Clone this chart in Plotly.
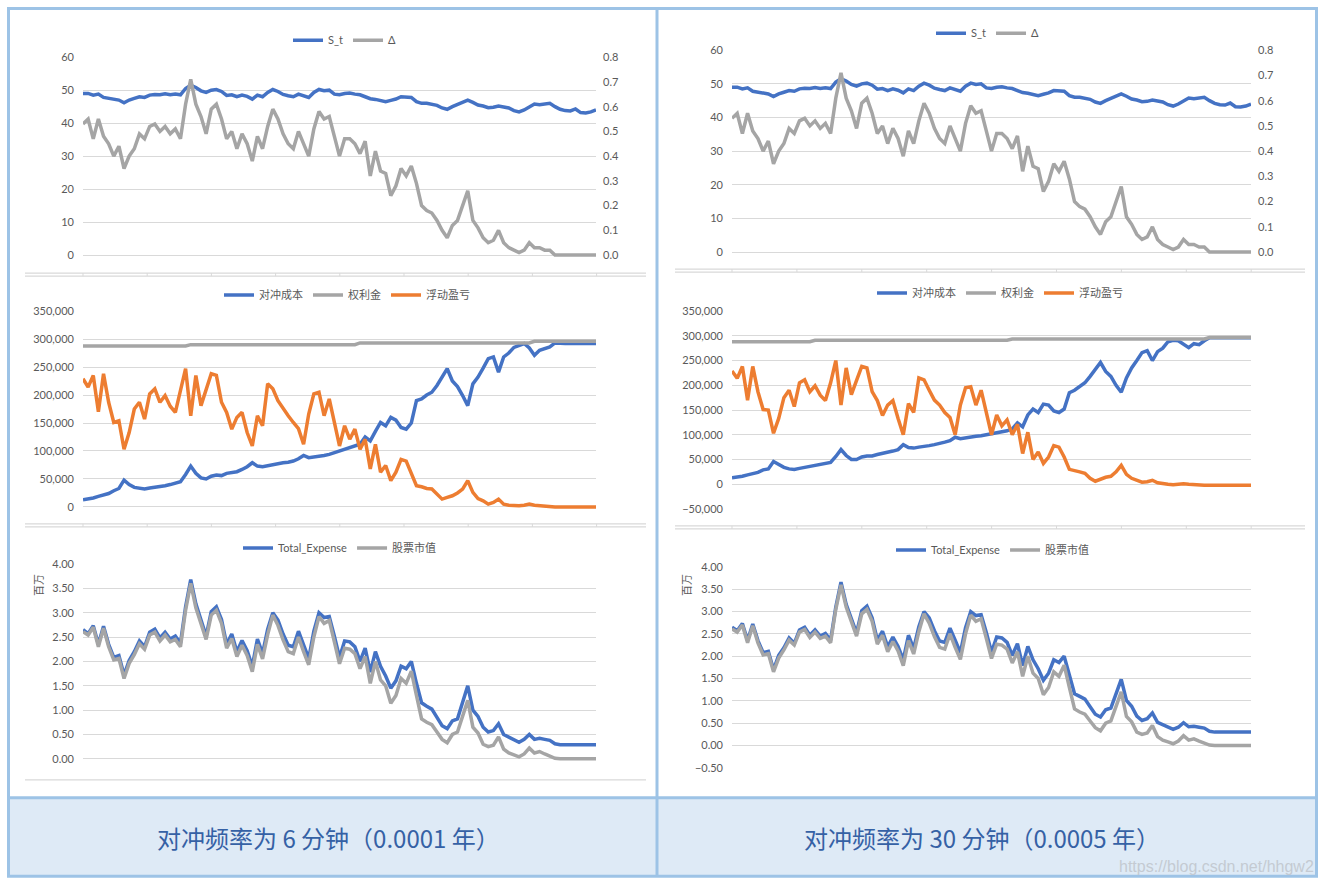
import plotly.graph_objects as go

# ---- data (101 time steps) ----
steps = list(range(101))

s_t = [49.0, 49.0, 48.5, 48.8, 47.8, 47.5, 47.2, 47.0, 46.2, 47.0,
       47.5, 48.0, 47.8, 48.5, 48.7, 48.6, 48.9, 48.6, 48.8, 48.6,
       50.5, 51.5, 50.8, 49.8, 49.3, 50.0, 50.2, 49.6, 48.4, 48.6,
       48.0, 48.5, 48.1, 47.3, 48.5, 48.0, 49.3, 50.2, 49.6, 48.7,
       48.3, 48.0, 48.8, 48.2, 47.8, 49.3, 50.2, 49.8, 50.0, 48.8,
       48.6, 49.0, 49.1, 48.8, 48.6, 48.0, 47.4, 47.2, 46.8, 46.5,
       46.9, 47.3, 48.0, 48.0, 47.8, 46.5, 46.0, 46.0, 45.7, 45.4,
       44.6, 44.2, 45.0, 45.6, 46.2, 47.0, 46.3, 45.5, 45.2, 44.7,
       44.8, 45.2, 44.9, 44.6, 43.8, 43.4, 44.0, 45.0, 45.8, 45.6,
       45.8, 46.0, 45.0, 44.2, 43.8, 43.7, 44.3, 43.2, 43.1, 43.4,
       44.0]

delta = [0.53, 0.55, 0.47, 0.55, 0.48, 0.45, 0.40, 0.44, 0.35, 0.40,
         0.43, 0.49, 0.47, 0.52, 0.53, 0.50, 0.52, 0.49, 0.51, 0.47,
         0.61, 0.71, 0.61, 0.56, 0.49, 0.59, 0.61, 0.55, 0.47, 0.50,
         0.43, 0.49, 0.45, 0.38, 0.48, 0.43, 0.52, 0.59, 0.55, 0.49,
         0.45, 0.43, 0.50, 0.45, 0.40, 0.51, 0.58, 0.55, 0.56, 0.48,
         0.40, 0.47, 0.47, 0.45, 0.41, 0.46, 0.32, 0.42, 0.34, 0.33,
         0.24, 0.28, 0.35, 0.32, 0.36, 0.29, 0.20, 0.18, 0.17, 0.14,
         0.10, 0.07, 0.12, 0.14, 0.20, 0.26, 0.14, 0.11, 0.07, 0.05,
         0.06, 0.10, 0.05, 0.03, 0.02, 0.01, 0.02, 0.05, 0.03, 0.03,
         0.02, 0.02, 0.0, 0.0, 0.0, 0.0, 0.0, 0.0, 0.0, 0.0,
         0.0]

hedge_cost_6m = [13000, 14000, 16000, 19000, 21000, 24000, 29000, 33000, 48000, 40000,
                 35000, 33000, 32000, 34000, 35000, 37000, 38000, 40000, 42000, 45000,
                 58000, 73000, 60000, 52000, 50000, 55000, 57000, 56000, 60000, 62000,
                 63000, 67000, 72000, 79000, 73000, 72000, 74000, 76000, 77000, 79000,
                 80000, 82000, 86000, 92000, 88000, 89000, 91000, 92000, 94000, 97000,
                 100000, 103000, 106000, 109000, 112000, 125000, 118000, 135000, 151000, 145000,
                 160000, 155000, 142000, 139000, 150000, 190000, 193000, 200000, 205000, 217000,
                 232000, 247000, 225000, 215000, 199000, 181000, 220000, 232000, 248000, 265000,
                 268000, 241000, 268000, 275000, 285000, 289000, 292000, 284000, 271000, 280000,
                 283000, 286000, 293000, 292000, 292000, 292000, 292000, 292000, 292000, 292000,
                 292000]

hedge_cost_30m = [13000, 14000, 16000, 19000, 21000, 24000, 29000, 31000, 46000, 40000,
                  34000, 31000, 30000, 32000, 34000, 36000, 37000, 39000, 41000, 44000,
                  56000, 70000, 58000, 50000, 50000, 55000, 57000, 57000, 60000, 62000,
                  64000, 67000, 70000, 80000, 74000, 73000, 75000, 76000, 78000, 80000,
                  82000, 85000, 88000, 95000, 92000, 94000, 96000, 97000, 98000, 100000,
                  102000, 104000, 105000, 108000, 112000, 124000, 116000, 140000, 152000, 145000,
                  162000, 160000, 148000, 145000, 152000, 185000, 190000, 198000, 205000, 218000,
                  232000, 246000, 228000, 218000, 200000, 186000, 215000, 235000, 250000, 266000,
                  270000, 250000, 268000, 275000, 288000, 291000, 290000, 282000, 276000, 284000,
                  282000, 290000, 296000, 296000, 296000, 296000, 296000, 296000, 296000, 296000,
                  296000]

premium_6m = [287500] * 21 + [290000] * 33 + [293000] * 34 + [296000] * 13
premium_30m = [288000] * 16 + [291000] * 38 + [293500] * 38 + [296500] * 9

pnl_6m = [229000, 214000, 235000, 170000, 238000, 187000, 151000, 154000, 103000, 133000,
          175000, 187000, 157000, 202000, 211000, 187000, 199000, 180000, 169000, 205000,
          247000, 163000, 235000, 181000, 210000, 238000, 235000, 187000, 169000, 139000,
          160000, 169000, 133000, 109000, 163000, 145000, 220000, 211000, 190000, 175000,
          163000, 151000, 140000, 112000, 166000, 202000, 205000, 163000, 193000, 151000,
          109000, 145000, 121000, 139000, 103000, 121000, 68000, 112000, 62000, 74000,
          47000, 62000, 85000, 82000, 58000, 38000, 36000, 33000, 32000, 22000,
          14000, 17000, 20000, 25000, 32000, 47000, 26000, 15000, 11000, 5000,
          8000, 14000, 5000, 3000, 2000, 2000, 3000, 5000, 3000, 2000,
          2000, 1000, 0, 0, 0, 0, 0, 0, 0, 0,
          0]

pnl_30m = [229000, 214000, 238000, 170000, 238000, 187000, 151000, 150000, 103000, 133000,
           175000, 190000, 157000, 205000, 211000, 187000, 199000, 180000, 169000, 205000,
           250000, 160000, 235000, 181000, 210000, 238000, 235000, 187000, 169000, 139000,
           160000, 169000, 133000, 100000, 163000, 145000, 215000, 211000, 190000, 170000,
           160000, 145000, 135000, 100000, 160000, 195000, 197000, 160000, 190000, 145000,
           100000, 140000, 118000, 130000, 100000, 121000, 62000, 105000, 50000, 65000,
           42000, 55000, 78000, 75000, 55000, 30000, 28000, 25000, 22000, 12000,
           6000, 10000, 14000, 16000, 25000, 38000, 20000, 12000, 8000, 4000,
           5000, 8000, 3000, 1000, 0, -1000, 0, 1000, 0, -1000,
           -1000, -2000, -2000, -2000, -2000, -2000, -2000, -2000, -2000, -2000,
           -2000]

stock_value = [2.61, 2.54, 2.70, 2.30, 2.68, 2.30, 2.03, 2.06, 1.65, 1.96,
               2.14, 2.36, 2.25, 2.54, 2.60, 2.42, 2.54, 2.40, 2.45, 2.30,
               3.05, 3.60, 3.10, 2.80, 2.45, 2.95, 3.05, 2.78, 2.27, 2.47,
               2.10, 2.33, 2.12, 1.79, 2.35, 2.05, 2.55, 2.95, 2.74, 2.44,
               2.20, 2.16, 2.50, 2.20, 1.93, 2.50, 2.92, 2.78, 2.84, 2.40,
               1.95, 2.27, 2.25, 2.16, 1.85, 2.10, 1.55, 2.00, 1.62, 1.50,
               1.14, 1.30, 1.65, 1.55, 1.80, 1.30, 0.82, 0.75, 0.70, 0.55,
               0.40, 0.33, 0.50, 0.55, 0.85, 1.20, 0.65, 0.53, 0.30, 0.25,
               0.28, 0.45, 0.20, 0.12, 0.08, 0.04, 0.10, 0.22, 0.12, 0.15,
               0.10, 0.06, 0.01, 0.0, 0.0, 0.0, 0.0, 0.0, 0.0, 0.0,
               0.0]

total_6m = [2.65, 2.57, 2.73, 2.35, 2.72, 2.35, 2.08, 2.12, 1.72, 2.02,
            2.20, 2.42, 2.30, 2.60, 2.66, 2.48, 2.60, 2.46, 2.52, 2.37,
            3.12, 3.68, 3.18, 2.87, 2.52, 3.02, 3.12, 2.86, 2.35, 2.56,
            2.20, 2.43, 2.22, 1.90, 2.46, 2.16, 2.66, 3.00, 2.85, 2.56,
            2.33, 2.30, 2.62, 2.34, 2.06, 2.62, 3.00, 2.90, 2.92, 2.52,
            2.08, 2.42, 2.40, 2.30, 2.00, 2.27, 1.78, 2.20, 1.90, 1.70,
            1.45, 1.60, 1.90, 1.85, 2.00, 1.55, 1.15, 1.08, 1.02, 0.85,
            0.68, 0.62, 0.78, 0.82, 1.15, 1.50, 1.00, 0.87, 0.65, 0.55,
            0.58, 0.72, 0.50, 0.45, 0.40, 0.34, 0.40, 0.50, 0.40, 0.42,
            0.40, 0.38, 0.31, 0.29, 0.29, 0.29, 0.29, 0.29, 0.29, 0.29,
            0.29]

total_30m = [2.65, 2.57, 2.73, 2.35, 2.72, 2.35, 2.08, 2.11, 1.70, 2.02,
             2.19, 2.41, 2.29, 2.59, 2.65, 2.47, 2.59, 2.45, 2.51, 2.36,
             3.10, 3.66, 3.16, 2.86, 2.52, 3.02, 3.12, 2.86, 2.36, 2.56,
             2.21, 2.43, 2.22, 1.92, 2.47, 2.17, 2.66, 3.00, 2.86, 2.57,
             2.34, 2.31, 2.63, 2.36, 2.08, 2.64, 3.00, 2.91, 2.93, 2.53,
             2.09, 2.43, 2.41, 2.31, 2.02, 2.28, 1.79, 2.22, 1.92, 1.72,
             1.46, 1.62, 1.92, 1.86, 2.00, 1.58, 1.16, 1.10, 1.04, 0.87,
             0.70, 0.64, 0.80, 0.84, 1.15, 1.48, 1.01, 0.88, 0.66, 0.56,
             0.60, 0.73, 0.52, 0.46, 0.41, 0.36, 0.41, 0.51, 0.42, 0.43,
             0.41, 0.39, 0.32, 0.30, 0.30, 0.30, 0.30, 0.30, 0.30, 0.30,
             0.30]

captions = ["对冲频率为 6 分钟（0.0001 年）", "对冲频率为 30 分钟（0.0005 年）"]
watermark = "https://blog.csdn.net/hhgw2"

# ---- page geometry: target screenshot pixels -> paper ----
# the photographed page comes out slightly squashed vertically, so compensate
W, H = 1324, 886
Y_OFF, Y_K = 6.8, 0.9858


def px(x):
    return x / W


def py(y):
    return 1 - ((y - Y_OFF) / Y_K) / H


BLUE, GREY, ORANGE = "#4472C4", "#A5A5A5", "#ED7D31"
GRID, TXT = "#D9D9D9", "#595959"
FONT = "Lato, 'Noto Sans CJK SC', sans-serif"
tickfont = dict(family=FONT, size=11, color=TXT)


def yax(top, bot, lo, hi, ext, **kw):
    # ext: small extra room below lo so a line at the minimum is not clipped
    bot2 = bot + ext * (bot - top) / (hi - lo)
    d = dict(domain=[py(bot2), py(top)], range=[lo - ext, hi], showgrid=True,
             gridcolor=GRID, gridwidth=1, zeroline=False, showline=False,
             tickfont=tickfont, ticks="", ticklabelstandoff=8)
    d.update(kw)
    return d


def xax(x0, x1, anchor):
    return dict(domain=[px(x0), px(x1)], range=[0, 100], visible=False, anchor=anchor)


fig = go.Figure()


def line(y, name, color, xa, ya, leg):
    fig.add_trace(go.Scatter(x=steps, y=y, name=name, mode="lines",
                             line=dict(color=color, width=3.5),
                             xaxis=xa, yaxis=ya, legend=leg, hoverinfo="skip"))


# left column (6 minutes)
line(s_t, "S_t", BLUE, "x", "y", "legend")
line(delta, "Δ", GREY, "x", "y2", "legend")
line(hedge_cost_6m, "对冲成本", BLUE, "x2", "y3", "legend2")
line(premium_6m, "权利金", GREY, "x2", "y3", "legend2")
line(pnl_6m, "浮动盈亏", ORANGE, "x2", "y3", "legend2")
line(total_6m, "Total_Expense", BLUE, "x3", "y4", "legend3")
line(stock_value, "股票市值", GREY, "x3", "y4", "legend3")
# right column (30 minutes)
line(s_t, "S_t", BLUE, "x4", "y5", "legend4")
line(delta, "Δ", GREY, "x4", "y6", "legend4")
line(hedge_cost_30m, "对冲成本", BLUE, "x5", "y7", "legend5")
line(premium_30m, "权利金", GREY, "x5", "y7", "legend5")
line(pnl_30m, "浮动盈亏", ORANGE, "x5", "y7", "legend5")
line(total_30m, "Total_Expense", BLUE, "x6", "y8", "legend6")
line(stock_value, "股票市值", GREY, "x6", "y8", "legend6")

LX0, LX1 = 83, 596
RX0, RX1 = 732, 1251

layout = dict(
    width=W, height=H, margin=dict(l=0, r=0, t=0, b=0),
    paper_bgcolor="white", plot_bgcolor="rgba(0,0,0,0)",
    font=dict(family=FONT, color=TXT),
    xaxis=xax(LX0, LX1, "y"),
    yaxis=yax(57, 255, 0, 60, 1, dtick=10, anchor="x"),
    yaxis2=dict(overlaying="y", side="right", anchor="x", range=[-0.8 / 60, 0.8],
                dtick=0.1, tickformat=".1f", showgrid=False, zeroline=False,
                tickfont=tickfont, ticklabelstandoff=6),
    xaxis2=xax(LX0, LX1, "y3"),
    yaxis3=yax(311, 507, 0, 350000, 5000, dtick=50000, tickformat=",", anchor="x2"),
    xaxis3=xax(LX0, LX1, "y4"),
    yaxis4=yax(564, 759, 0, 4, 0.05, dtick=0.5, tickformat=".2f", anchor="x3"),
    xaxis4=xax(RX0, RX1, "y5"),
    yaxis5=yax(50, 252, 0, 60, 1, dtick=10, anchor="x4"),
    yaxis6=dict(overlaying="y5", side="right", anchor="x4", range=[-0.8 / 60, 0.8],
                dtick=0.1, tickformat=".1f", showgrid=False, zeroline=False,
                tickfont=tickfont, ticklabelstandoff=6),
    xaxis5=xax(RX0, RX1, "y7"),
    yaxis7=yax(311, 509, -50000, 350000, 0, dtick=50000, tickformat=",", anchor="x5"),
    xaxis6=xax(RX0, RX1, "y8"),
    yaxis8=yax(567, 768, -0.5, 4, 0, dtick=0.5, tickformat=".2f", anchor="x6"),
    showlegend=True,
)

legend_pos = {"legend": (345, 40), "legend2": (347, 295), "legend3": (340, 548),
              "legend4": (988, 33), "legend5": (1000, 293), "legend6": (993, 550)}
for key, (cx, cy) in legend_pos.items():
    layout[key] = dict(orientation="h", x=px(cx), y=py(cy), xanchor="center",
                       yanchor="middle", bgcolor="rgba(0,0,0,0)", itemwidth=30,
                       font=dict(family=FONT, size=11, color=TXT), tracegroupgap=0)

fig.update_layout(**layout)

# ---- frame of the table, separators, captions ----
FRAME = "#9DC3E6"
top, left, right, bottom = Y_OFF + 1.5, 8.5, 1316.5, 876.5
shapes = [
    dict(type="rect", xref="paper", yref="paper", x0=px(left), x1=px(right),
         y0=py(bottom), y1=py(798), fillcolor="#DEEAF6", line=dict(width=0), layer="below"),
    dict(type="rect", xref="paper", yref="paper", x0=px(left), x1=px(right),
         y0=py(bottom), y1=py(top), line=dict(color=FRAME, width=3)),
    dict(type="line", xref="paper", yref="paper", x0=px(657), x1=px(657),
         y0=py(bottom), y1=py(top), line=dict(color=FRAME, width=3)),
    dict(type="line", xref="paper", yref="paper", x0=px(left), x1=px(right),
         y0=py(798), y1=py(798), line=dict(color=FRAME, width=3)),
]


def sep(x0, x1, y, tick0, tickstep):
    out = []
    for yy in (y, y + 3):
        out.append(dict(type="line", xref="paper", yref="paper", x0=px(x0), x1=px(x1),
                        y0=py(yy), y1=py(yy), line=dict(color=GRID, width=1.2)))
    for k in range(9):
        xx = tick0 + k * tickstep
        out.append(dict(type="line", xref="paper", yref="paper", x0=px(xx), x1=px(xx),
                        y0=py(y), y1=py(y + 3), line=dict(color=GRID, width=1)))
    return out


shapes += sep(25, 646, 273, 83, 64.2)
shapes += sep(25, 646, 524, 83, 64.2)
shapes += sep(675, 1305, 269, 732, 64.9)
shapes += sep(675, 1305, 526, 732, 64.9)
shapes.append(dict(type="line", xref="paper", yref="paper", x0=px(25), x1=px(646),
                   y0=py(780), y1=py(780), line=dict(color=GRID, width=1.2)))

cap_font = dict(family="Noto Sans CJK SC", size=24, color="#3561A5")
annotations = [
    dict(text=captions[0], x=px(328), y=py(838), xref="paper", yref="paper",
         xanchor="center", yanchor="middle", showarrow=False, font=cap_font),
    dict(text=captions[1], x=px(982), y=py(838), xref="paper", yref="paper",
         xanchor="center", yanchor="middle", showarrow=False, font=cap_font),
    dict(text=watermark, x=px(1316), y=py(867), xref="paper", yref="paper",
         xanchor="right", yanchor="middle", showarrow=False,
         font=dict(family="Liberation Sans Narrow, Liberation Sans", size=16, color="#C4CAD2")),
    dict(text="百万", x=px(39), y=py(585), xref="paper", yref="paper", textangle=-90,
         xanchor="center", yanchor="middle", showarrow=False,
         font=dict(family=FONT, size=11, color=TXT)),
    dict(text="百万", x=px(687), y=py(585), xref="paper", yref="paper", textangle=-90,
         xanchor="center", yanchor="middle", showarrow=False,
         font=dict(family=FONT, size=11, color=TXT)),
]

fig.update_layout(shapes=shapes, annotations=annotations)

# pin the plot to the top-left corner of the window (no body margin, no scrolling)
pin = ("var gd=document.getElementById('{plot_id}');"
       "document.body.style.margin='0';document.body.style.overflow='hidden';"
       "gd.style.position='fixed';gd.style.left='0px';gd.style.top='0px';")

fig.write_html("out.html", config={"displayModeBar": False}, post_script=pin)
